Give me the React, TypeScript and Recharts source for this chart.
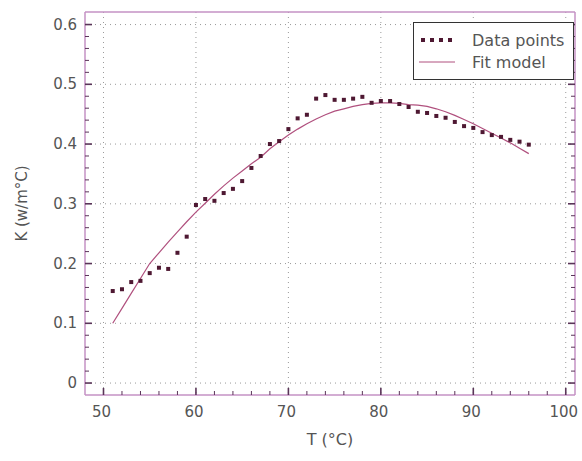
import React from "react";
import {
  CartesianGrid,
  ComposedChart,
  Line,
  Scatter,
  XAxis,
  YAxis,
} from "recharts";

// measured points, T in °C, K in W/m°C
const tempPoints = [
  51, 52, 53, 54, 55, 56, 57, 58, 59, 60, 61, 62, 63, 64, 65, 66, 67, 68, 69, 70,
  71, 72, 73, 74, 75, 76, 77, 78, 79, 80, 81, 82, 83, 84, 85, 86, 87, 88, 89, 90,
  91, 92, 93, 94, 95, 96,
];
const kPoints = [
  0.154, 0.157, 0.169, 0.171, 0.184, 0.193, 0.191, 0.218, 0.245, 0.298, 0.308, 0.305,
  0.318, 0.325, 0.338, 0.36, 0.38, 0.4, 0.405, 0.425, 0.443, 0.449, 0.476, 0.482,
  0.474, 0.474, 0.476, 0.479, 0.469, 0.472, 0.472, 0.467, 0.462, 0.454, 0.452, 0.447,
  0.444, 0.437, 0.43, 0.427, 0.42, 0.415, 0.412, 0.407, 0.404, 0.399,
];

// fitted curve
const tempFit = [
  51, 52, 53, 54, 55, 56, 57, 58, 59, 60, 61, 62, 63, 64, 65, 66, 67, 68, 69, 70,
  71, 72, 73, 74, 75, 76, 77, 78, 79, 80, 81, 82, 83, 84, 85, 86, 87, 88, 89, 90,
  91, 92, 93, 94, 95, 96,
];
const kFit = [
  0.1, 0.125, 0.15, 0.175, 0.2, 0.218, 0.236, 0.253, 0.27, 0.286, 0.301, 0.316,
  0.33, 0.343, 0.355, 0.367, 0.378, 0.392, 0.404, 0.415, 0.425, 0.434, 0.442, 0.449,
  0.455, 0.459, 0.463, 0.466, 0.468, 0.469, 0.469, 0.468, 0.466, 0.465, 0.463, 0.459,
  0.454, 0.448, 0.441, 0.434, 0.426, 0.418, 0.41, 0.402, 0.393, 0.384,
];

const xMajor = [50, 60, 70, 80, 90, 100];
const xMinor = [
  50, 52, 54, 56, 58, 60, 62, 64, 66, 68, 70, 72, 74, 76, 78, 80, 82, 84, 86, 88,
  90, 92, 94, 96, 98, 100,
];
const yMajor = [0, 0.1, 0.2, 0.3, 0.4, 0.5, 0.6];
const yMinor = [
  0, 0.02, 0.04, 0.06, 0.08, 0.1, 0.12, 0.14, 0.16, 0.18, 0.2, 0.22, 0.24, 0.26,
  0.28, 0.3, 0.32, 0.34, 0.36, 0.38, 0.4, 0.42, 0.44, 0.46, 0.48, 0.5, 0.52, 0.54,
  0.56, 0.58, 0.6,
];

const points = tempPoints.map((t, i) => ({ t, k: kPoints[i] }));
const fit = tempFit.map((t, i) => ({ t, k: kFit[i] }));

const X_DOMAIN = [48, 101];
const Y_DOMAIN = [-0.02, 0.621];
const FONT = "'DejaVu Sans', sans-serif";
const frameColor = "#c592c5";
const tickColor = "#5a3458";
const dotColor = "#4e1832";
const fitColor = "#b0507e";
const textColor = "#555";

const isMajor = (list: number[], v: number) => list.some((m) => Math.abs(m - v) < 1e-6);

// ticks drawn inward from the axis line, labels only on major ticks
const makeTick = (side: "bottom" | "top" | "left" | "right") => (props: any) => {
  const { x, y, payload } = props;
  const v = payload.value;
  const major = isMajor(side === "bottom" || side === "top" ? xMajor : yMajor, v);
  const len = major ? 7 : 4;
  const sw = major ? 1.6 : 1;
  if (side === "bottom") {
    return (
      <g>
        <line x1={x} y1={y} x2={x} y2={y - len} stroke={tickColor} strokeWidth={sw} />
        {major && (
          <text x={x - 2} y={y + 22} textAnchor="middle" fill={textColor} fontSize={15} fontFamily={FONT}>
            {v}
          </text>
        )}
      </g>
    );
  }
  if (side === "top") {
    return <line x1={x} y1={y} x2={x} y2={y + len} stroke={tickColor} strokeWidth={sw} />;
  }
  if (side === "left") {
    return (
      <g>
        <line x1={x} y1={y} x2={x + len} y2={y} stroke={tickColor} strokeWidth={sw} />
        {major && (
          <text x={x - 8} y={y + 5} textAnchor="end" fill={textColor} fontSize={15} fontFamily={FONT}>
            {v}
          </text>
        )}
      </g>
    );
  }
  return <line x1={x} y1={y} x2={x - len} y2={y} stroke={tickColor} strokeWidth={sw} />;
};

const SquareDot = (props: any) => {
  const { cx, cy } = props;
  if (cx == null || cy == null) return null;
  return <rect x={cx - 2} y={cy - 2} width={4} height={4} fill={dotColor} />;
};

const LegendBox = () => (
  <div
    style={{
      position: "absolute",
      left: 413,
      top: 22,
      border: "1.5px solid #333",
      background: "#fff",
      width: 161,
      height: 58,
      boxSizing: "border-box",
      fontFamily: FONT,
      fontSize: 16,
      color: textColor,
      padding: "6px 0 0 4px",
    }}
  >
    <div style={{ display: "flex", alignItems: "center", height: 22 }}>
      <svg width={40} height={10}>
        {[0, 1, 2, 3].map((i) => (
          <rect key={i} x={3 + i * 9} y={3} width={4} height={4} fill={dotColor} />
        ))}
      </svg>
      <span style={{ marginLeft: 14 }}>Data points</span>
    </div>
    <div style={{ display: "flex", alignItems: "center", height: 22 }}>
      <svg width={40} height={10}>
        <line x1={1} y1={5} x2={37} y2={5} stroke={fitColor} strokeWidth={1} />
      </svg>
      <span style={{ marginLeft: 14 }}>Fit model</span>
    </div>
  </div>
);

export default function App() {
  return (
    <div style={{ position: "absolute", left: 0, top: 0, background: "#fff", width: 582, height: 461 }}>
      <ComposedChart
        width={582}
        height={461}
        margin={{ top: 11, right: 6, bottom: 36, left: 25 }}
      >
        <CartesianGrid
          xAxisId="x"
          yAxisId="y"
          stroke="#9a9a9a"
          strokeDasharray="1 4"
          verticalValues={xMajor}
          horizontalValues={yMajor}
        />
        <XAxis
          xAxisId="x"
          dataKey="t"
          type="number"
          domain={X_DOMAIN}
          ticks={xMinor}
          interval={0}
          allowDataOverflow
          height={30}
          tickLine={false}
          tickSize={0}
          tickMargin={0}
          axisLine={{ stroke: frameColor, strokeWidth: 1.5 }}
          tick={makeTick("bottom")}
          label={{
            value: "T (°C)",
            position: "insideBottom",
            offset: -20,
            style: { fill: textColor, fontSize: 16, fontFamily: FONT },
          }}
        />
        <XAxis
          xAxisId="top"
          orientation="top"
          type="number"
          domain={X_DOMAIN}
          ticks={xMinor}
          interval={0}
          allowDataOverflow
          height={1}
          tickLine={false}
          tickSize={0}
          tickMargin={0}
          axisLine={{ stroke: frameColor, strokeWidth: 1.5 }}
          tick={makeTick("top")}
        />
        <YAxis
          yAxisId="y"
          type="number"
          domain={Y_DOMAIN}
          ticks={yMinor}
          interval={0}
          allowDataOverflow
          width={60}
          tickLine={false}
          tickSize={0}
          tickMargin={0}
          axisLine={{ stroke: frameColor, strokeWidth: 1.5 }}
          tick={makeTick("left")}
          label={{
            value: "K (w/m°C)",
            angle: -90,
            position: "insideLeft",
            offset: -3,
            style: { fill: textColor, fontSize: 15, fontFamily: FONT, textAnchor: "middle" },
          }}
        />
        <YAxis
          yAxisId="right"
          orientation="right"
          type="number"
          domain={Y_DOMAIN}
          ticks={yMinor}
          interval={0}
          allowDataOverflow
          width={1}
          tickLine={false}
          tickSize={0}
          tickMargin={0}
          axisLine={{ stroke: frameColor, strokeWidth: 1.5 }}
          tick={makeTick("right")}
        />
        <Line
          xAxisId="x"
          yAxisId="y"
          data={fit}
          dataKey="k"
          name="Fit model"
          type="linear"
          stroke={fitColor}
          strokeWidth={1.2}
          dot={false}
          isAnimationActive={false}
        />
        <Scatter
          xAxisId="x"
          yAxisId="y"
          data={points}
          dataKey="k"
          name="Data points"
          shape={<SquareDot />}
          isAnimationActive={false}
        />
      </ComposedChart>
      <LegendBox />
    </div>
  );
}
